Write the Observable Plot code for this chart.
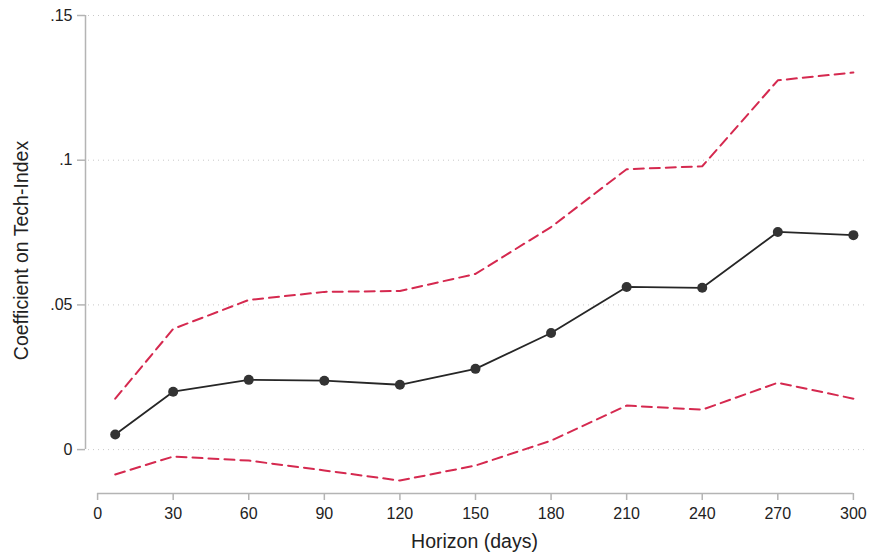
<!DOCTYPE html>
<html>
<head>
<meta charset="utf-8">
<script src="https://cdn.jsdelivr.net/npm/d3@7"></script>
<script src="https://cdn.jsdelivr.net/npm/@observablehq/plot@0.6"></script>
<style>
  html, body { margin: 0; padding: 0; background: #fff; }
  svg { overflow: visible; }
</style>
</head>
<body>
<div id="chart"></div>
<script>
// Data
const horizon = [7, 30, 60, 90, 120, 150, 180, 210, 240, 270, 300];
const coef    = [0.0052, 0.0200, 0.0241, 0.0238, 0.0224, 0.0279, 0.0403, 0.0562, 0.0559, 0.0752, 0.0741];
const upper   = [0.0176, 0.0417, 0.0517, 0.0545, 0.0548, 0.0607, 0.0769, 0.0969, 0.0979, 0.1276, 0.1303];
const lower   = [-0.0086, -0.0024, -0.0038, -0.0072, -0.0107, -0.0055, 0.0031, 0.0152, 0.0138, 0.0231, 0.0176];
const xTicks  = [0, 30, 60, 90, 120, 150, 180, 210, 240, 270, 300];
const yTicks  = [0, 0.05, 0.1, 0.15];
const xTitle  = "Horizon (days)";
const yTitle  = "Coefficient on Tech-Index";

const rows = horizon.map((h, i) => ({h, coef: coef[i], upper: upper[i], lower: lower[i]}));

// Layout (axis offsets, Stata-like)
const xLo = -4.8, xHi = 305.6;
const yLo = -0.01517, yHi = 0.15;
const axisColor = "#b4b4b4";
const red = "#d5294f";

const chart = Plot.plot({
  width: 870,
  height: 554,
  marginLeft: 85,
  marginRight: 3,
  marginTop: 15,
  marginBottom: 61,
  style: {fontFamily: "'Liberation Sans', Arial, Helvetica, sans-serif", color: "#222"},
  x: {domain: [xLo, xHi]},
  y: {domain: [yLo, yHi]},
  marks: [
    Plot.ruleY(yTicks, {stroke: "#c8c8c8", strokeWidth: 1, strokeDasharray: "1,4", insetLeft: 3}),
    Plot.ruleY([yLo], {x1: 0, x2: 300, stroke: axisColor, strokeWidth: 1.5}),
    Plot.ruleX([xLo], {y1: 0, y2: 0.15, stroke: axisColor, strokeWidth: 1.5}),
    Plot.axisX({ticks: xTicks, tickSize: 7, tickPadding: 7, fontSize: 16, stroke: axisColor, strokeWidth: 1.5, fill: "#222", label: null}),
    Plot.axisY({ticks: yTicks, tickSize: 8, tickPadding: 5, fontSize: 16, stroke: axisColor, strokeWidth: 1.5, fill: "#222", label: null,
      tickFormat: d => d === 0 ? "0" : String(d).replace(/^0/, "")}),
    Plot.line(rows, {x: "h", y: "upper", stroke: red, strokeWidth: 2, strokeDasharray: "10,6"}),
    Plot.line(rows, {x: "h", y: "lower", stroke: red, strokeWidth: 2, strokeDasharray: "10,6"}),
    Plot.line(rows, {x: "h", y: "coef", stroke: "#262626", strokeWidth: 1.8}),
    Plot.dot(rows, {x: "h", y: "coef", r: 5, fill: "#333", stroke: "none"}),
    Plot.text([xTitle], {frameAnchor: "bottom", textAnchor: "middle", lineAnchor: "middle", dy: 48, dx: -2, fontSize: 19.5, fill: "#222"}),
    Plot.text([yTitle], {frameAnchor: "left", textAnchor: "middle", lineAnchor: "middle", dx: -64, dy: -4, rotate: -90, fontSize: 19.5, fill: "#222"})
  ]
});
document.getElementById("chart").appendChild(chart);
</script>
</body>
</html>
